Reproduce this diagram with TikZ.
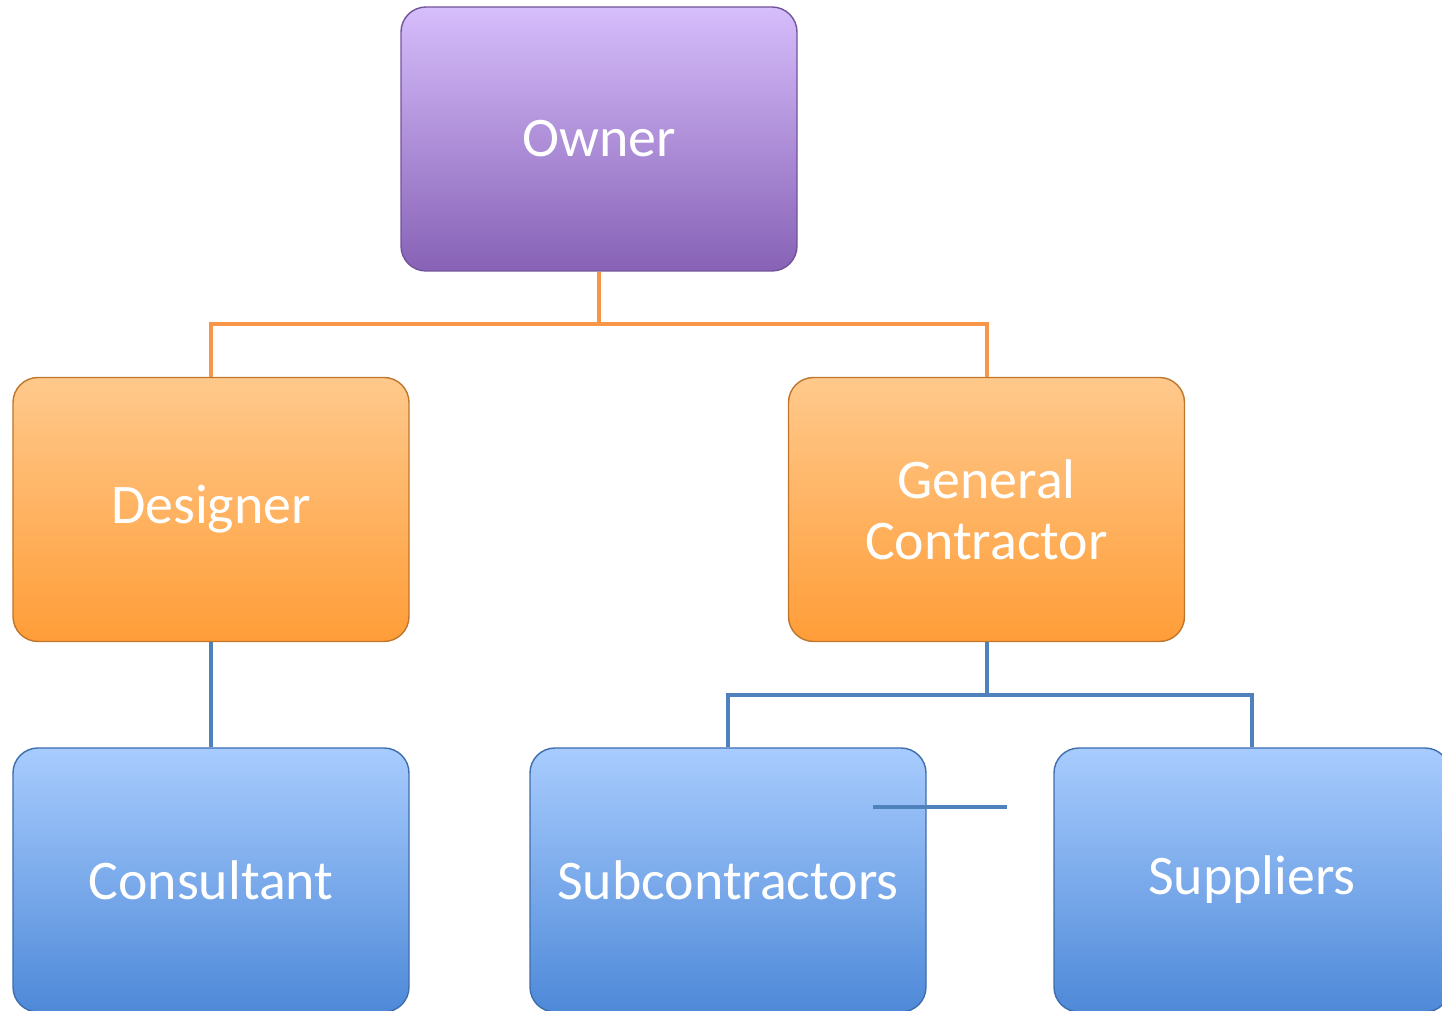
\documentclass[tikz,border=0pt]{standalone}
\usepackage{fontspec}
\setmainfont{Carlito}
\definecolor{ownertop}{HTML}{D6BDFB}
\definecolor{ownerbot}{HTML}{8762B6}
\definecolor{orgtop}{HTML}{FFC98C}
\definecolor{orgbot}{HTML}{FF9D38}
\definecolor{bluetop}{HTML}{A8CCFE}
\definecolor{bluebot}{HTML}{4E89D8}
\definecolor{orgline}{HTML}{F79646}
\definecolor{blueline}{HTML}{4F81BD}
\tikzset{
  box/.style={rounded corners=0.25cm, minimum width=3.96cm, minimum height=2.64cm,
    text=white, align=center, font=\fontsize{15.9}{17.4}\selectfont, inner sep=0pt},
  ownerbox/.style={box, top color=ownertop, bottom color=ownerbot, draw=ownerbot!85!black, line width=0.4pt},
  orgbox/.style={box, top color=orgtop, bottom color=orgbot, draw=orgbot!75!black, line width=0.4pt},
  bluebox/.style={box, top color=bluetop, bottom color=bluebot, draw=bluebot!80!black, line width=0.4pt},
  orglink/.style={draw=orgline, line width=0.04cm},
  bluelink/.style={draw=blueline, line width=0.04cm}
}
\begin{document}
\begin{tikzpicture}
    \useasboundingbox (0,0) rectangle (14.42,-10.11);
    %Top level
    \node[ownerbox] (owner) at (5.99,-1.39) {Owner};
    %Second level
    \node[orgbox] (designer) at (2.11,-5.095) {Designer};
    \node[orgbox] (contractor) at (9.865,-5.095) {General\\Contractor};
    %Third level
    \node[bluebox] (consultant) at (2.11,-8.80) {Consultant};
    \node[bluebox] (subs) at (7.28,-8.80) {Subcontractors};
    \node[bluebox] (suppliers) at (12.52,-8.80) {Suppliers};
    %Owner links
    \draw[orglink] (owner.south) -- ++(0,-0.52) coordinate (ownerjoin)
        -| (designer.north);
    \draw[orglink] (ownerjoin) -| (contractor.north);
    %Designer link
    \draw[bluelink] (designer.south) -- (consultant.north);
    %Contractor links
    \draw[bluelink] (contractor.south) -- ++(0,-0.53) coordinate (gcjoin)
        -| (subs.north);
    \draw[bluelink] (gcjoin) -| (suppliers.north);
    %Loose segment
    \coordinate (loose a) at (8.73,-8.07);
    \coordinate (loose b) at (10.07,-8.07);
    \draw[bluelink] (loose a) -- (loose b);
\end{tikzpicture}
\end{document}
